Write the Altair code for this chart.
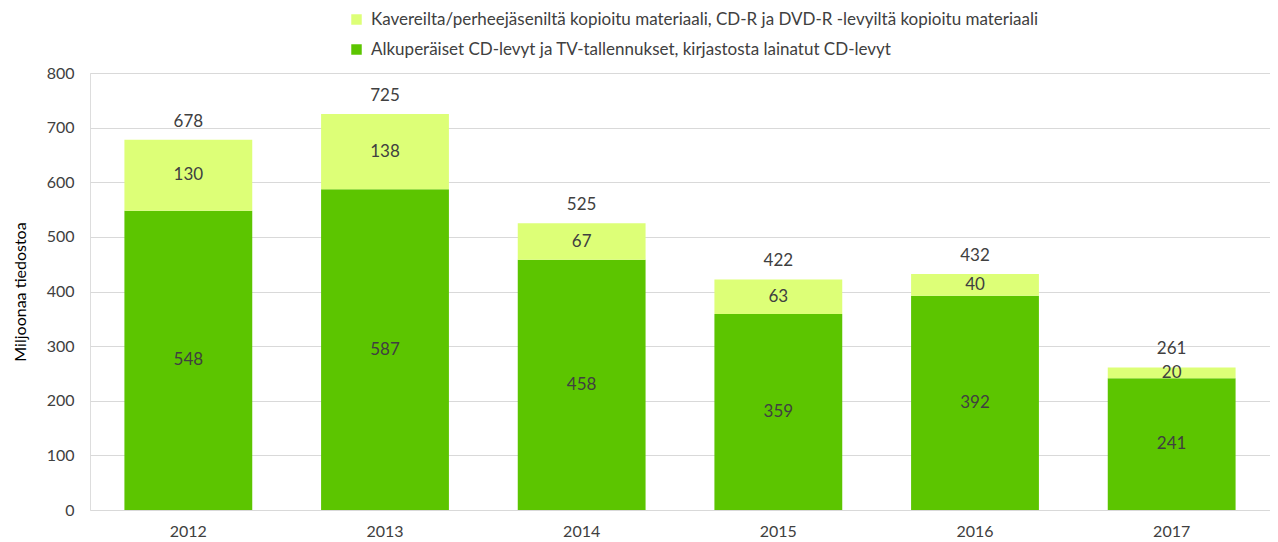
import altair as alt
import pandas as pd

years = ["2012", "2013", "2014", "2015", "2016", "2017"]
original = [548, 587, 458, 359, 392, 241]
copied = [130, 138, 67, 63, 40, 20]
totals = [678, 725, 525, 422, 432, 261]

s_copy = "Kavereilta/perheejäseniltä kopioitu materiaali, CD-R ja DVD-R -levyiltä kopioitu materiaali"
s_orig = "Alkuperäiset CD-levyt ja TV-tallennukset, kirjastosta lainatut CD-levyt"

rows = []
for y, o, c in zip(years, original, copied):
    rows.append({"year": y, "series": s_orig, "value": o, "ord": 0})
    rows.append({"year": y, "series": s_copy, "value": c, "ord": 1})
df = pd.DataFrame(rows)
tot = pd.DataFrame({"year": years, "total": totals})

FONT = "Lato"
TXT = "#404040"

x = alt.X("year:N", title=None, scale=alt.Scale(paddingInner=0.35, paddingOuter=0.175),
          axis=alt.Axis(labelAngle=0, labelFontSize=16, labelColor=TXT, labelFont=FONT,
                        domain=False, ticks=False, labelPadding=13))
y_scale = alt.Scale(domain=[0, 800])

bars = alt.Chart(df).mark_bar().encode(
    x=x,
    y=alt.Y("sum(value):Q", stack="zero", scale=y_scale, title="Miljoonaa tiedostoa",
            axis=alt.Axis(values=list(range(0, 801, 100)), grid=True, gridColor="#D9D9D9",
                          domain=False, ticks=False, labelFontSize=16, labelColor=TXT,
                          labelFont=FONT, labelPadding=16, titleFont=FONT, titleFontSize=16,
                          titleFontWeight="normal", titleColor="#000000", titlePadding=18)),
    color=alt.Color("series:N",
                    scale=alt.Scale(domain=[s_copy, s_orig], range=["#DDFF77", "#5CC500"]),
                    legend=alt.Legend(title=None, orient="none", legendX=258, legendY=-62,
                                      direction="vertical", symbolType="square", symbolSize=110,
                                      symbolStrokeWidth=0, labelFontSize=17, labelFont=FONT,
                                      labelColor=TXT, rowPadding=12, labelLimit=900,
                                      labelOffset=6)),
    order=alt.Order("ord:Q"),
)

seg_text = alt.Chart(df).transform_stack(
    stack="value", groupby=["year"], as_=["v0", "v1"], sort=[alt.SortField("ord")]
).transform_calculate(mid="(datum.v0 + datum.v1) / 2").mark_text(
    fontSize=17, font=FONT, color=TXT, baseline="middle"
).encode(x=alt.X("year:N"), y=alt.Y("mid:Q", scale=y_scale), text="value:Q")

tot_text = alt.Chart(tot).mark_text(
    fontSize=17, font=FONT, color=TXT, baseline="middle", dy=-18
).encode(x=alt.X("year:N"), y=alt.Y("total:Q", scale=y_scale), text="total:Q")

chart = alt.layer(bars, seg_text, tot_text).properties(
    width=1180, height=437,
    autosize=alt.AutoSizeParams(type="none"),
    padding={"left": 82, "top": 65, "right": 0, "bottom": 32},
).configure_view(stroke=None).configure(background="white")

chart.save("out.html", embed_options={"renderer": "svg", "actions": False})
